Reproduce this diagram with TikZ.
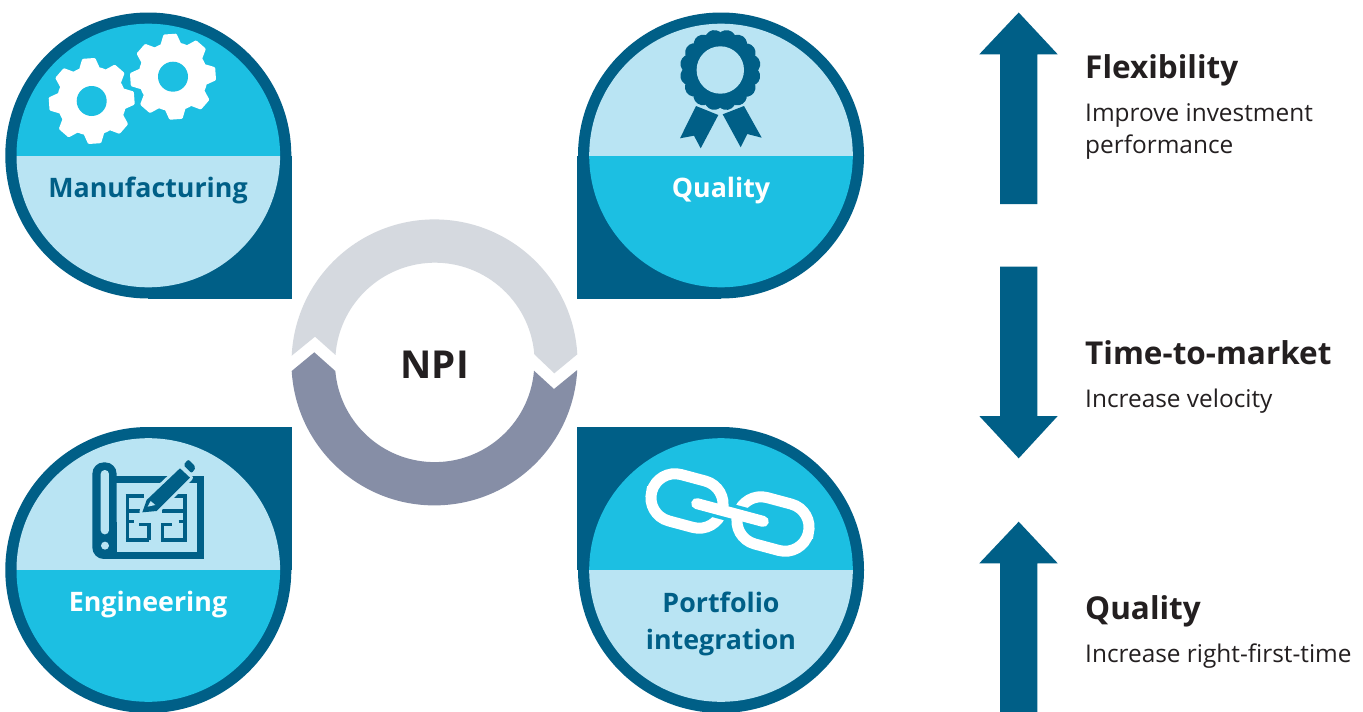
\documentclass[tikz,border=0pt]{standalone}
\usepackage{fontspec}
\setmainfont{Open Sans}
\definecolor{dk}{HTML}{005F87}
\definecolor{cy}{HTML}{1CBFE2}
\definecolor{lt}{HTML}{B9E4F3}
\definecolor{ringa}{HTML}{D5D9DF}
\definecolor{ringb}{HTML}{868EA6}
\definecolor{ink}{HTML}{231F20}
\tikzset{
  badgelabel/.style={align=center,inner sep=0pt,font=\bfseries\fontsize{26.8}{37}\selectfont},
  headlabel/.style={anchor=base west,inner sep=0pt,text=ink,font=\bfseries\fontsize{31.5}{37}\selectfont},
  sublabel/.style={anchor=base west,inner sep=0pt,text=ink,font=\fontsize{24.4}{31}\selectfont},
  bigarrow/.style={fill=dk},
  plan/.style={draw=dk,line width=3.3pt},
}
% #1 cx, #2 cy, #3 top colour, #4 bottom colour, #5 corner x, #6 corner y
\newcommand{\badge}[6]{%
  \fill[dk] (#1,#2) rectangle (#5,#6);
  \fill[dk] (#1,#2) circle[radius=143pt];
  \begin{scope}
    \clip (#1,#2) circle[radius=131.8pt];
    \fill[#3] (#1-140,#2-140) rectangle (#1+140,#2);
    \fill[#4] (#1-140,#2) rectangle (#1+140,#2+140);
  \end{scope}
}
\newcommand{\gear}[2]{%
  \begin{scope}[shift={(#1,#2)}]
    \fill[white] (0,0) circle[radius=34.5pt];
    \foreach \a in {0,45,...,315}{
      \begin{scope}[rotate=\a+4]
        \fill[white,rounded corners=1pt] (32,-10.5) -- (42.7,-6.5) -- (42.7,6.5) -- (32,10.5) -- cycle;
      \end{scope}
    }
    \fill[cy] (0,0) circle[radius=15pt];
  \end{scope}
}
\begin{document}
\begin{tikzpicture}[x=1pt,y=-1pt]
\useasboundingbox (0,0) rectangle (1363,712);
\fill[white] (0,0) rectangle (1363,712);

% badges
\badge{148.3}{155.5}{cy}{lt}{292}{298.5}
\badge{721}{155.5}{lt}{cy}{577}{298.5}
\badge{148.3}{570}{lt}{cy}{292}{427}
\badge{721}{570}{cy}{lt}{577}{427}

% gears
\gear{91.7}{101}
\gear{173}{76.7}

% rosette
\fill[dk] (696,106) -- (718.3,115) -- (700.7,148.3) -- (694,135.7) -- (680,138.3) -- cycle;
\fill[dk] (744,106) -- (761.7,137.7) -- (747.3,134) -- (740.7,147.3) -- (722.7,114.3) -- cycle;
\begin{scope}[shift={(720.3,70)}]
  \foreach \a in {0,22.5,...,337.5}{
    \begin{scope}[rotate=\a+11]
      \fill[lt] (31,0) circle[radius=11.3pt];
    \end{scope}
  }
  \foreach \a in {0,22.5,...,337.5}{
    \begin{scope}[rotate=\a+11]
      \fill[dk] (31,0) circle[radius=9.5pt];
    \end{scope}
  }
  \fill[dk] (0,0) circle[radius=36pt];
  \fill[lt] (0,0) circle[radius=23.7pt];
\end{scope}

% blueprint
\begin{scope}[shift={(85,455)},x=0.3333pt,y=-0.3333pt]
  \fill[dk,rounded corners=11.5pt] (22,22) rectangle (95,312);
  \fill[dk] (70,292) rectangle (357,312);
  \fill[dk] (60,200) rectangle (95,312);
  \fill[dk] (337,62) rectangle (357,312);
  \fill[dk] (90,62) rectangle (357,84);
  \fill[lt,rounded corners=4pt] (47,45) rectangle (72,238);
  \fill[lt] (60,272) circle[radius=4pt];
  \draw[plan,line cap=butt]
    (127,255) -- (127,118) (122,123) -- (178,123)
    (240,123) -- (306,123) (300,118) -- (300,260)
    (122,255) -- (192,255) (192,255) -- (192,208) -- (163,208)
    (228,255) -- (306,255) (233,255) -- (233,208) -- (262,208)
    (127,168) -- (176,168) (232,168) -- (300,168)
    (127,200) -- (146,200) (281,200) -- (300,200);
  \draw[lt,line width=6pt,fill=dk,line join=round]
    (185,135) -- (285,40) -- (315,68) -- (215,168) -- (172,172) -- cycle;
  \fill[dk] (185,135) -- (285,40) -- (315,68) -- (215,168) -- (172,172) -- cycle;
  \fill[lt] (188,155) -- (197,138) -- (211,150) -- cycle;
  \fill[dk,rounded corners=2pt] (295,30) -- (310,13) -- (333,37) -- (320,55) -- cycle;
\end{scope}

% chain
\begin{scope}[shift={(730,512.5)},rotate=-15]
  \draw[white,line width=11pt,rounded corners=24pt] (-81,-24) rectangle (-8,24);
  \draw[white,line width=11pt,rounded corners=24pt] (8,-24) rectangle (81,24);
  \fill[cy] (-22,5) rectangle (-1,9);
  \fill[cy] (1,-9) rectangle (22,-5);
  \draw[white,line width=11pt,line cap=round] (-34.5,0) -- (34.5,0);
\end{scope}

% NPI ring
\fill[ringa] (291.7,355.7) arc[start angle=177.31,end angle=3.25,radius=143pt]
  -- (554.3,373.3) -- (534.3,354.3) arc[start angle=4.66,end angle=175.74,radius=99.7pt]
  -- (315,336.7) -- cycle;
\fill[ringb] (291.7,371) arc[start angle=183.45,end angle=356.95,radius=143pt]
  -- (554,389) -- (534,370.7) arc[start angle=355.23,end angle=184.95,radius=99.7pt]
  -- (314.3,352.3) -- cycle;
\node[inner sep=0pt,text=ink,font=\bfseries\fontsize{38.5}{39}\selectfont] (npi) at (434.7,364.5) {NPI};

% badge labels
\node[badgelabel,text=dk] (mfg) at (148,190.5) {Manufacturing};
\node[badgelabel,text=white] (qual) at (721,190.5) {Quality};
\node[badgelabel,text=white] (eng) at (148,605) {Engineering};
\node[badgelabel,text=dk] (port) at (721,623.5) {Portfolio\\integration};

% arrows
\fill[bigarrow] (1018.7,12.5) -- (1057.7,54.3) -- (1037.3,54.3) -- (1037.3,204) -- (1000,204) -- (1000,54.3) -- (979.3,54.3) -- cycle;
\fill[bigarrow] (1018.7,458.3) -- (1057.7,416) -- (1037.3,416) -- (1037.3,266.7) -- (1000,266.7) -- (1000,416) -- (979.3,416) -- cycle;
\fill[bigarrow] (1018.7,521.7) -- (1057.7,563.3) -- (1037.3,563.3) -- (1037.3,712) -- (1000,712) -- (1000,563.3) -- (979.3,563.3) -- cycle;

% right texts
\node[headlabel] (h1) at (1085,78) {Flexibility};
\node[sublabel] (s1a) at (1085,121.7) {Improve investment};
\node[sublabel] (s1b) at (1085,153) {performance};
\node[headlabel] (h2) at (1085,364) {Time-to-market};
\node[sublabel] (s2) at (1085,407.7) {Increase velocity};
\node[headlabel] (h3) at (1085,619) {Quality};
\node[sublabel] (s3) at (1085,662.7) {Increase right-first-time};
\end{tikzpicture}
\end{document}
